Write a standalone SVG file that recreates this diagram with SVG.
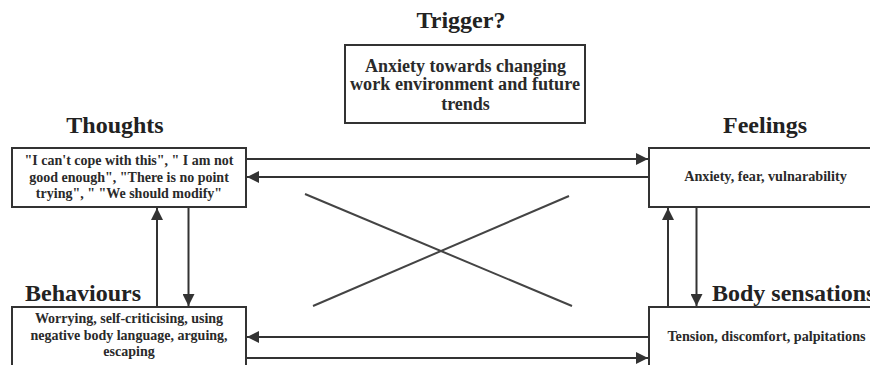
<svg xmlns="http://www.w3.org/2000/svg" width="870" height="365" viewBox="0 0 870 365">
<style>
.box{fill:#fff;stroke:#333;stroke-width:2}
.ttl{font-family:"Liberation Serif","Times New Roman",serif;font-weight:bold;font-size:24px;fill:#222}
.txt{font-family:"Liberation Serif","Times New Roman",serif;font-weight:bold;fill:#2a2a2a;text-anchor:middle}
.ln{stroke:#333;stroke-width:2;fill:none}
.x{stroke:#444;stroke-width:2;fill:none}
</style>
<defs>
<marker id="ah" viewBox="0 0 10 10" refX="10" refY="5" markerWidth="6" markerHeight="6" markerUnits="strokeWidth" orient="auto">
<path d="M0,0 L10,5 L0,10 z" fill="#333"/>
</marker>
</defs>
<rect width="870" height="365" fill="#fff"/>
<g id="trigger">
<text class="ttl" x="461" y="28" text-anchor="middle" font-size="23">Trigger?</text>
<rect class="box" x="345" y="45" width="240" height="78"/>
<text class="txt" font-size="18"><tspan x="465.5" y="71.5">Anxiety towards changing</tspan></text>
<text class="txt" font-size="18" x="465" y="90" textLength="230" lengthAdjust="spacingAndGlyphs">work environment and future</text>
<text class="txt" font-size="18" x="465.5" y="110">trends</text>
</g>
<g id="thoughts">
<text class="ttl" x="115" y="133" text-anchor="middle">Thoughts</text>
<rect class="box" x="12" y="148" width="234" height="59"/>
<text class="txt" font-size="14"><tspan x="129" y="165">"I can't cope with this", " I am not</tspan><tspan x="129" y="181.5">good enough", "There is no point</tspan><tspan x="129" y="197.5">trying", " "We should modify"</tspan></text>
</g>
<g id="feelings">
<text class="ttl" x="765" y="133" text-anchor="middle">Feelings</text>
<rect class="box" x="649" y="148" width="230" height="59"/>
<text class="txt" font-size="14.2" x="765.5" y="181">Anxiety, fear, vulnarability</text>
</g>
<g id="behaviours">
<text class="ttl" x="25" y="301">Behaviours</text>
<rect class="box" x="12" y="307" width="234" height="62"/>
<text class="txt" font-size="14"><tspan x="129" y="323">Worrying, self-criticising, using</tspan><tspan x="129" y="339.5">negative body language, arguing,</tspan><tspan x="129" y="355.5">escaping</tspan></text>
</g>
<g id="body">
<text class="ttl" x="712" y="301">Body sensations</text>
<rect class="box" x="649" y="307" width="230" height="62"/>
<text class="txt" font-size="14.2" x="766.5" y="341">Tension, discomfort, palpitations</text>
</g>
<g id="connectors">
<line class="ln" x1="246" y1="159" x2="648" y2="159" marker-end="url(#ah)"/>
<line class="ln" x1="648" y1="177" x2="247" y2="177" marker-end="url(#ah)"/>
<line class="ln" x1="648" y1="337" x2="247" y2="337" marker-end="url(#ah)"/>
<line class="ln" x1="246" y1="358" x2="648" y2="358" marker-end="url(#ah)"/>
<line class="ln" x1="157" y1="307" x2="157" y2="208" marker-end="url(#ah)"/>
<line class="ln" x1="188.5" y1="207" x2="188.5" y2="306" marker-end="url(#ah)"/>
<line class="ln" x1="668" y1="307" x2="668" y2="208" marker-end="url(#ah)"/>
<line class="ln" x1="696.5" y1="207" x2="696.5" y2="306" marker-end="url(#ah)"/>
<line class="x" x1="305" y1="194" x2="572" y2="306"/>
<line class="x" x1="313" y1="306" x2="569" y2="196"/>
</g>
</svg>
